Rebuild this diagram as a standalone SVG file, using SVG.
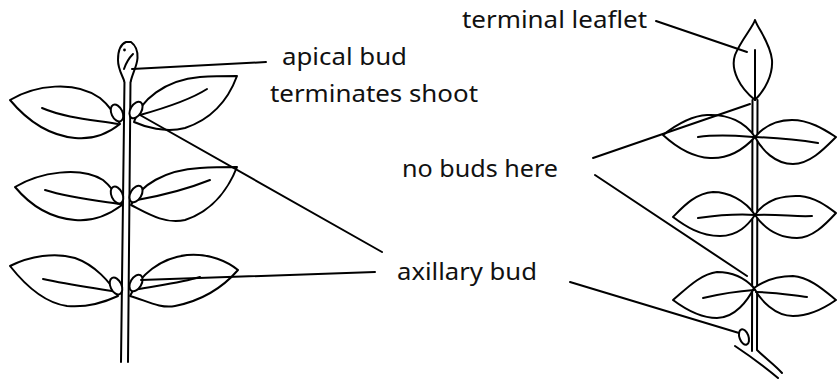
<svg xmlns="http://www.w3.org/2000/svg" width="837" height="380" viewBox="0 0 837 380">
<style>
.p{fill:none;stroke:#000;stroke-width:2;stroke-linecap:round;stroke-linejoin:round}
.lf{fill:#fff;stroke:#000;stroke-width:2;stroke-linejoin:round}
.ld{fill:none;stroke:#000;stroke-width:2;stroke-linecap:round}
.t{font-family:"Noto Sans","Liberation Sans",sans-serif;font-size:23.5px;fill:#111}
</style>
<rect width="837" height="380" fill="#fff"/>
<g id="simple-leaf-shoot">
  <path class="p" d="M124.5,80 C124,150 122,250 121,362"/>
  <path class="p" d="M130.5,80 C130,150 129,250 128,362"/>
  <path class="lf" d="M124.5,82 C123,76 118,70 118,60 C118,50 121,44 126,42 L131,42 C135,45 138,50 137.5,58 C137,66 133,72 130.5,82"/>
  <path class="p" d="M124,69 C126,63 129,58 133,54"/>
  <circle cx="124.5" cy="50" r="1.4"/>
  <!-- top pair -->
  <path class="lf" d="M10,100 C35,85 75,80 100,98 C110,106 115,115 120,124 C110,132 95,140 75,138 C45,135 25,118 10,100 Z"/>
  <path class="p" d="M42,108 C65,118 95,120 118,124"/>
  <path class="lf" d="M134,122 C140,100 165,80 200,77 C215,76 228,76 237,76 C230,95 215,118 185,128 C165,133 145,127 134,122 Z"/>
  <path class="p" d="M140,115 C165,108 190,100 207,89"/>
  <ellipse class="lf" cx="117" cy="113" rx="5.5" ry="9" transform="rotate(-25 117 113)"/>
  <ellipse class="lf" cx="136" cy="110" rx="5.5" ry="9" transform="rotate(30 136 110)"/>
  <!-- middle pair -->
  <path class="lf" d="M15,187 C40,172 80,166 103,180 C113,188 118,197 122,205 C110,214 95,222 75,220 C50,218 30,205 15,187 Z"/>
  <path class="p" d="M45,190 C70,198 100,201 120,204"/>
  <path class="lf" d="M131,205 C140,185 165,170 200,168 C215,167 228,167 237,167 C230,185 215,210 185,220 C165,225 145,212 131,205 Z"/>
  <path class="p" d="M137,200 C165,195 190,188 210,180"/>
  <ellipse class="lf" cx="117" cy="195" rx="5.5" ry="9" transform="rotate(-25 117 195)"/>
  <ellipse class="lf" cx="136" cy="194" rx="5.5" ry="9" transform="rotate(30 136 194)"/>
  <!-- bottom pair -->
  <path class="lf" d="M10,266 C30,256 55,252 75,258 C95,265 110,282 118,296 C105,302 88,308 67,306 C45,303 25,285 10,266 Z"/>
  <path class="p" d="M43,279 C70,285 95,288 118,292"/>
  <path class="lf" d="M130,296 C140,275 160,258 187,255 C210,253 228,262 238,270 C225,285 205,300 175,306 C160,309 145,300 130,296 Z"/>
  <path class="p" d="M133,290 C160,285 180,283 200,277"/>
  <ellipse class="lf" cx="116" cy="286" rx="5.5" ry="9" transform="rotate(-25 116 286)"/>
  <ellipse class="lf" cx="136" cy="283" rx="5.5" ry="9" transform="rotate(30 136 283)"/>
</g>
<g id="compound-leaf">
  <path class="p" d="M752.5,100 L752,351"/>
  <path class="p" d="M757.5,100 L757,350 C765,358 775,365 782,373"/>
  <path class="p" d="M735,346 C750,356 765,367 778,378"/>
  <ellipse class="lf" cx="744" cy="337" rx="4.5" ry="8" transform="rotate(-20 744 337)"/>
  <path class="lf" d="M755,20 C753,27 741,40 735,55 C730,70 740,88 755,100 C765,90 773,75 772,60 C770,42 758,29 755,20 Z"/>
  <path class="p" d="M755,50 L755,100"/>
  <!-- top pair -->
  <path class="lf" d="M755,137 C745,122 728,114 707,115 C688,116 672,128 663,135 C675,146 690,157 710,158 C730,159 745,148 755,137 Z"/>
  <path class="p" d="M698,137 C720,134 740,136 755,137"/>
  <path class="lf" d="M755,137 C765,125 778,120 792,120 C810,120 825,130 836,137 C825,148 810,164 793,164 C775,164 762,150 755,137 Z"/>
  <path class="p" d="M755,137 C780,138 800,140 818,143"/>
  <!-- middle pair -->
  <path class="lf" d="M755,215 C745,200 728,192 713,192 C695,193 682,208 673,217 C685,226 700,236 720,236 C738,236 748,225 755,215 Z"/>
  <path class="p" d="M698,218 C720,215 740,214 755,215"/>
  <path class="lf" d="M755,215 C765,200 780,195 800,196 C815,197 828,207 836,213 C825,225 812,238 797,238 C775,238 762,225 755,215 Z"/>
  <path class="p" d="M755,215 C780,214 795,217 812,216"/>
  <!-- bottom pair -->
  <path class="lf" d="M754,288 C745,278 732,272 717,272 C700,274 685,290 673,300 C685,309 700,318 717,318 C735,318 748,300 754,288 Z"/>
  <path class="p" d="M703,298 C720,294 740,291 754,290"/>
  <path class="lf" d="M754,288 C765,280 780,276 793,276 C810,277 826,292 836,300 C826,307 810,316 793,316 C775,316 760,300 754,288 Z"/>
  <path class="p" d="M756,292 C775,292 790,295 807,297"/>
</g>
<g id="connectors">
  <line class="ld" x1="132" y1="69" x2="266" y2="62"/>
  <line class="ld" x1="140" y1="115" x2="382" y2="252"/>
  <line class="ld" x1="141" y1="280" x2="375" y2="272"/>
  <line class="ld" x1="656" y1="21" x2="747" y2="52"/>
  <line class="ld" x1="593" y1="158" x2="750" y2="104"/>
  <line class="ld" x1="595" y1="175" x2="747" y2="276"/>
  <line class="ld" x1="570" y1="282" x2="739" y2="333"/>
</g>
<g id="labels">
  <text class="t" x="282" y="65" textLength="125" lengthAdjust="spacingAndGlyphs">apical bud</text>
  <text class="t" x="270" y="102" textLength="208" lengthAdjust="spacingAndGlyphs">terminates shoot</text>
  <text class="t" x="462" y="28" textLength="185" lengthAdjust="spacingAndGlyphs">terminal leaflet</text>
  <text class="t" x="402" y="177" textLength="156" lengthAdjust="spacingAndGlyphs">no buds here</text>
  <text class="t" x="397" y="280" textLength="140" lengthAdjust="spacingAndGlyphs">axillary bud</text>
</g>
</svg>
